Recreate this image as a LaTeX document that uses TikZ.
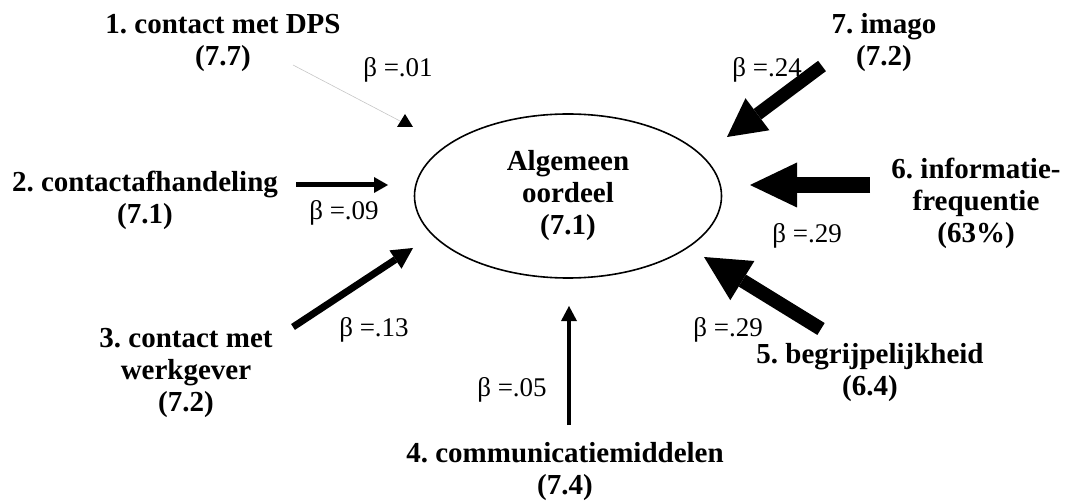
\documentclass[tikz,border=0pt]{standalone}
\usepackage{fontspec}
\setmainfont{Liberation Serif}
\usetikzlibrary{arrows.meta,shapes.geometric}
\frenchspacing

\begin{document}
\begin{tikzpicture}[x=1pt,y=-1pt,
  factor/.style={font=\fontsize{29}{32}\selectfont\bfseries, align=center, inner sep=0pt},
  beta/.style={font=\fontsize{27}{30}\selectfont, inner sep=0pt},
  effect/.style n args={3}{line width=#1pt,
    -{Triangle[length=#2pt,width=#3pt,line width=0pt]}}]

\useasboundingbox (0,0) rectangle (1067,502);

% central construct
\node[draw, ellipse, line width=1.6pt, minimum width=307pt, minimum height=164pt,
      factor] (oordeel) at (568,196) {Algemeen\\oordeel\\(7.1)};

% predictors
\node[factor] (f1) at (223,43) {1. contact met DPS\\(7.7)};
\node[factor] (f2) at (145,200) {2. contactafhandeling\\(7.1)};
\node[factor] (f3) at (186,373) {3. contact met\\werkgever\\(7.2)};
\node[factor] (f4) at (565,472) {4. communicatiemiddelen\\(7.4)};
\node[factor] (f5) at (870,373) {5. begrijpelijkheid\\(6.4)};
\node[factor] (f6) at (976,203) {6. informatie-\\frequentie\\(63\%)};
\node[factor] (f7) at (884,43) {7. imago\\(7.2)};

% path coefficients
\node[beta] (b1) at (398,70) {β =.01};
\node[beta] (b2) at (344,213) {β =.09};
\node[beta] (b3) at (374,330) {β =.13};
\node[beta] (b4) at (512,390) {β =.05};
\node[beta] (b5) at (728,330) {β =.29};
\node[beta] (b6) at (807,236) {β =.29};
\node[beta] (b7) at (767,70) {β =.24};

% arrow ends
\coordinate (t1) at (293,65);  \coordinate (h1) at (400,121);
\coordinate (t2) at (296,185); \coordinate (h2) at (388,185);
\coordinate (t3) at (293,327); \coordinate (h3) at (413,248);
\coordinate (t4) at (569,425); \coordinate (h4) at (569,306);
\coordinate (t5) at (821,329); \coordinate (h5) at (704,257);
\coordinate (t6) at (870,185); \coordinate (h6) at (750,185);
\coordinate (t7) at (822,66);  \coordinate (h7) at (727,137);

% arrows, width scaled by effect size
\draw[gray!45, line width=0.6pt] (t1) -- (h1);
\fill (405,114) -- (413,127) -- (397,127) -- cycle;
\draw[effect={5}{14}{16}] (t2) -- (h2);
\draw[effect={7}{21}{22}] (t3) -- (h3);
\draw[effect={4}{15}{16}] (t4) -- (h4);
\draw[effect={14}{45}{46}] (t5) -- (h5);
\draw[effect={16}{47}{45}] (t6) -- (h6);
\draw[effect={13}{38}{40}] (t7) -- (h7);

\end{tikzpicture}
\end{document}
